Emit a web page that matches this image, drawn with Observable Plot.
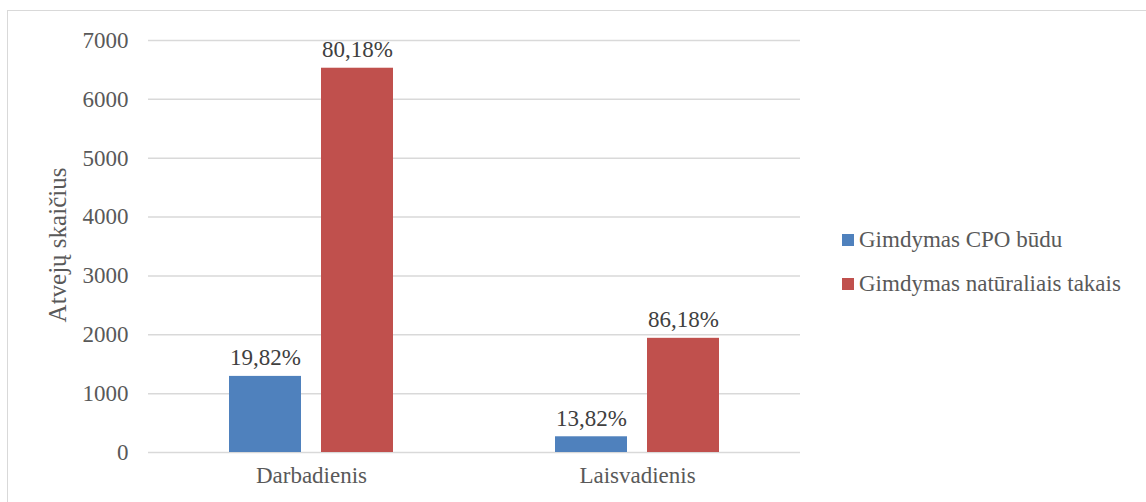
<!DOCTYPE html>
<html>
<head>
<meta charset="utf-8">
<script src="https://cdn.jsdelivr.net/npm/d3@7"></script>
<script src="https://cdn.jsdelivr.net/npm/@observablehq/plot@0.6"></script>
<style>
  html, body { margin: 0; padding: 0; background: #fff; }
  #wrap { position: relative; width: 1146px; height: 502px; overflow: hidden; font-family: "Liberation Serif", Tinos, "Times New Roman", "DejaVu Serif", serif; }
  #frame { position: absolute; left: 7px; top: 10px; width: 1200px; height: 600px; border: 1px solid #d9d9d9; box-sizing: border-box; }
  #chart { position: absolute; left: 0; top: 0; }
  #chart svg, #chart svg text { font-family: "Liberation Serif", Tinos, "Times New Roman", "DejaVu Serif", serif !important; }
  #ytitle { position: absolute; left: 58px; top: 245px; transform: translate(-50%, -50%) rotate(-90deg); white-space: nowrap; font-size: 25px; color: #595959; }
  #legend { position: absolute; left: 842px; top: 226px; font-size: 23px; color: #595959; }
  .item { display: flex; align-items: center; height: 27px; margin-bottom: 17px; white-space: nowrap; }
  .sw { width: 12px; height: 12px; margin-right: 5px; }
</style>
</head>
<body>
<div id="wrap">
  <div id="frame"></div>
  <div id="chart"></div>
  <div id="ytitle"></div>
  <div id="legend"></div>
</div>
<script>
// Day types and birth methods
const days = ["Darbadienis", "Laisvadienis"];
const series = ["Gimdymas CPO būdu", "Gimdymas natūraliais takais"];
const colors = ["#4f81bd", "#c0504d"];

// Case counts per day type (CPO, natural)
const cpoCounts = [1293, 267];
const naturalCounts = [6529, 1940];

// Share labels shown above the bars
const cpoLabels = ["19,82%", "13,82%"];
const naturalLabels = ["80,18%", "86,18%"];

const yTicks = [0, 1000, 2000, 3000, 4000, 5000, 6000, 7000];
const yTitle = "Atvejų skaičius";

const rows = [];
days.forEach((d, i) => {
  rows.push({day: d, method: series[0], count: cpoCounts[i], label: cpoLabels[i]});
  rows.push({day: d, method: series[1], count: naturalCounts[i], label: naturalLabels[i]});
});

const serif = "'Liberation Serif', Tinos, 'Times New Roman', 'DejaVu Serif', serif";

const chart = Plot.plot({
  width: 1146,
  height: 502,
  marginLeft: 147,
  marginRight: 346,
  marginTop: 40,
  marginBottom: 50,
  style: {fontFamily: serif, fontSize: "23px", color: "#595959", background: "transparent"},
  fx: {domain: days, padding: 0, axis: "bottom", label: null, tickSize: 0, tickPadding: 14},
  x: {domain: series, axis: null, paddingInner: 0.215, paddingOuter: 0.863},
  y: {domain: [0, 7000], ticks: yTicks, tickSize: 0, tickPadding: 20, label: null, tickFormat: d => String(d)},
  color: {domain: series, range: colors},
  marks: [
    Plot.ruleY(yTicks, {stroke: "#d9d9d9", strokeWidth: 1.5}),
    Plot.barY(rows, {fx: "day", x: "method", y: "count", fill: "method"}),
    Plot.text(rows, {fx: "day", x: "method", y: "count", text: "label", lineAnchor: "bottom", dy: -11, fill: "#404040", fontSize: 23})
  ]
});
document.getElementById("chart").appendChild(chart);

document.getElementById("ytitle").textContent = yTitle;

const legend = document.getElementById("legend");
series.forEach((s, i) => {
  const item = document.createElement("div");
  item.className = "item";
  const sw = document.createElement("span");
  sw.className = "sw";
  sw.style.background = colors[i];
  const t = document.createElement("span");
  t.textContent = s;
  item.appendChild(sw);
  item.appendChild(t);
  legend.appendChild(item);
});
</script>
</body>
</html>
